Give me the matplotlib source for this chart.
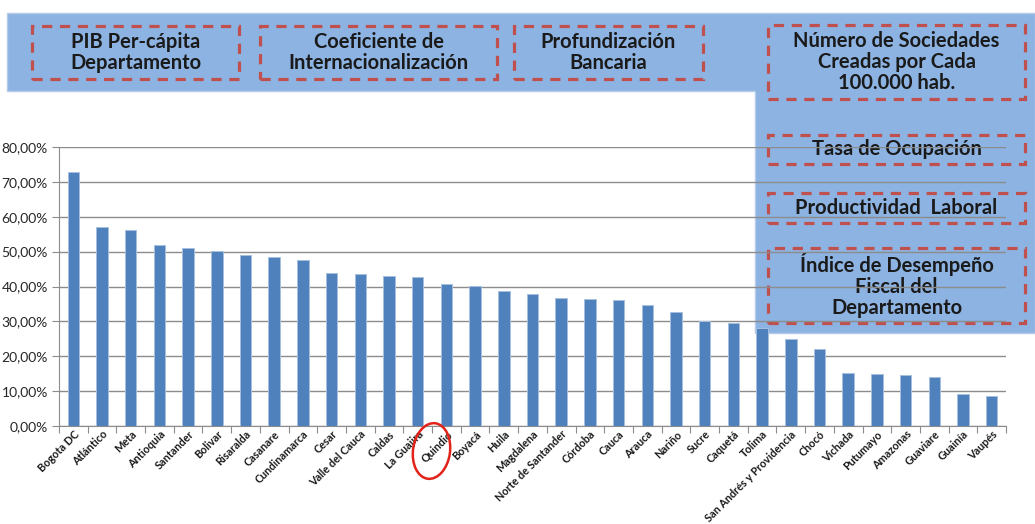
"""
Bar chart of a departmental index (percent) for Colombian departments,
with the overlay of indicator boxes drawn behind the plot area.
"""
import matplotlib.pyplot as plt
from matplotlib.patches import Rectangle, Polygon, Ellipse
from matplotlib.ticker import FixedLocator, FuncFormatter

# departments, in the order of the chart
departments = ["Bogota DC", "Atlántico", "Meta", "Antioquia", "Santander", "Bolivar",
               "Risaralda", "Casanare", "Cundinamarca", "Cesar", "Valle del Cauca",
               "Caldas", "La Guajira", "Quindio", "Boyacá", "Huila", "Magdalena",
               "Norte de Santander", "Córdoba", "Cauca", "Arauca", "Nariño", "Sucre",
               "Caquetá", "Tolima", "San Andrés y Providencia", "Chocó", "Vichada",
               "Putumayo", "Amazonas", "Guaviare", "Guainía", "Vaupés"]

# values in percent
values = [72.8, 57.2, 56.2, 51.8, 50.9, 50.1, 48.9, 48.5, 47.6, 43.9, 43.7,
          42.9, 42.6, 40.7, 40.2, 38.8, 37.8, 36.6, 36.3, 36.1, 34.7, 32.8, 30.1,
          29.6, 28.1, 24.9, 22.0, 15.3, 14.9, 14.6, 14.1, 9.2, 8.5]

y_ticks = [0, 10, 20, 30, 40, 50, 60, 70, 80]

# indicator boxes along the top and down the right side
top_boxes = ["PIB Per-cápita\nDepartamento",
             "Coeficiente de\nInternacionalización",
             "Profundización\nBancaria"]
side_boxes = ["Número de Sociedades\nCreadas por Cada\n100.000 hab.",
              "Tasa de Ocupación",
              "Productividad  Laboral",
              "Índice de Desempeño\nFiscal del\nDepartamento"]

W, H = 1035, 524
PANEL = "#8DB3E2"
RED = "#C0504D"

plt.rcParams["font.family"] = ["Lato", "DejaVu Sans"]


def px_box(x0, y0, x1, y1):
    """
    Turns pixel corners (from the top left) into figure fractions
    :return: (tuple) left, bottom, width, height
    """
    return x0 / W, 1 - y1 / H, (x1 - x0) / W, (y1 - y0) / H


def dashed_box(fig, x0, y0, x1, y1, label):
    """
    Draws one red dashed box with its bold label in the middle
    """
    left, bottom, width, height = px_box(x0, y0, x1, y1)
    fig.add_artist(Rectangle((left, bottom), width, height, transform=fig.transFigure,
                             fill=False, edgecolor=RED, linewidth=2.3,
                             linestyle=(0, (3.2, 2.4)), zorder=-1))
    fig.text(left + width / 2, bottom + height / 2, label, ha="center", va="center",
             fontsize=14.5, fontweight="bold", color="#1a1a1a", linespacing=1.05,
             zorder=-1)


fig = plt.figure(figsize=(W / 100, H / 100), dpi=100)

# blue L-shaped panel, kept behind the chart
outline = [(7, 13), (1035, 13), (1035, 333), (755, 333), (755, 91), (7, 91)]
fig.add_artist(Polygon([(x / W, 1 - y / H) for x, y in outline], closed=True,
                       transform=fig.transFigure, facecolor=PANEL,
                       edgecolor="#B4CBEA", linewidth=1, zorder=-2))

top_pos = [(32, 26, 239, 79), (260, 26, 497, 79), (514, 26, 703, 79)]
for pos, label in zip(top_pos, top_boxes):
    dashed_box(fig, *pos, label)

side_pos = [(768, 25, 1025, 99), (768, 135, 1025, 164),
            (768, 193, 1025, 223), (768, 248, 1025, 323)]
for pos, label in zip(side_pos, side_boxes):
    dashed_box(fig, *pos, label)

# chart area, transparent so the panel shows through the gridlines
ax = fig.add_axes(px_box(59, 147, 1006, 426))
ax.patch.set_alpha(0)

x = list(range(len(departments)))
ax.bar(x, values, width=0.4, color="#4F81BD", edgecolor="#A7C0E0", linewidth=0.7,
       zorder=3)

ax.set_xlim(-0.5, len(departments) - 0.5)
ax.set_ylim(0, 80)
ax.set_yticks(y_ticks)
ax.yaxis.set_major_formatter(FuncFormatter(lambda v, p: f"{v:.2f}%".replace(".", ",")))
ax.grid(axis="y", color="#8C8C8C", linewidth=1, zorder=0)

# tick marks between categories, labels under the bars
ax.xaxis.set_major_locator(FixedLocator([i - 0.5 for i in range(len(departments) + 1)]))
ax.xaxis.set_minor_locator(FixedLocator(x))
ax.set_xticklabels([])
ax.set_xticklabels(departments, minor=True, rotation=45, ha="right",
                   rotation_mode="anchor", fontsize=7.8, fontweight="bold",
                   color="#1a1a1a")
ax.tick_params(axis="x", which="major", length=5, color="#8C8C8C")
ax.tick_params(axis="x", which="minor", length=0, pad=2)
ax.tick_params(axis="y", length=5, color="#8C8C8C", labelsize=10, labelcolor="#262626",
               pad=3)

for side in ["top", "right"]:
    ax.spines[side].set_visible(False)
for side in ["left", "bottom"]:
    ax.spines[side].set_color("#8C8C8C")

# red circle round Quindio
fig.add_artist(Ellipse((4.315, 0.73), 0.37, 0.56, angle=-8, transform=fig.dpi_scale_trans,
                       fill=False, edgecolor="#E2231A", linewidth=1.8, zorder=5))

fig.savefig("out.png", dpi=100)
